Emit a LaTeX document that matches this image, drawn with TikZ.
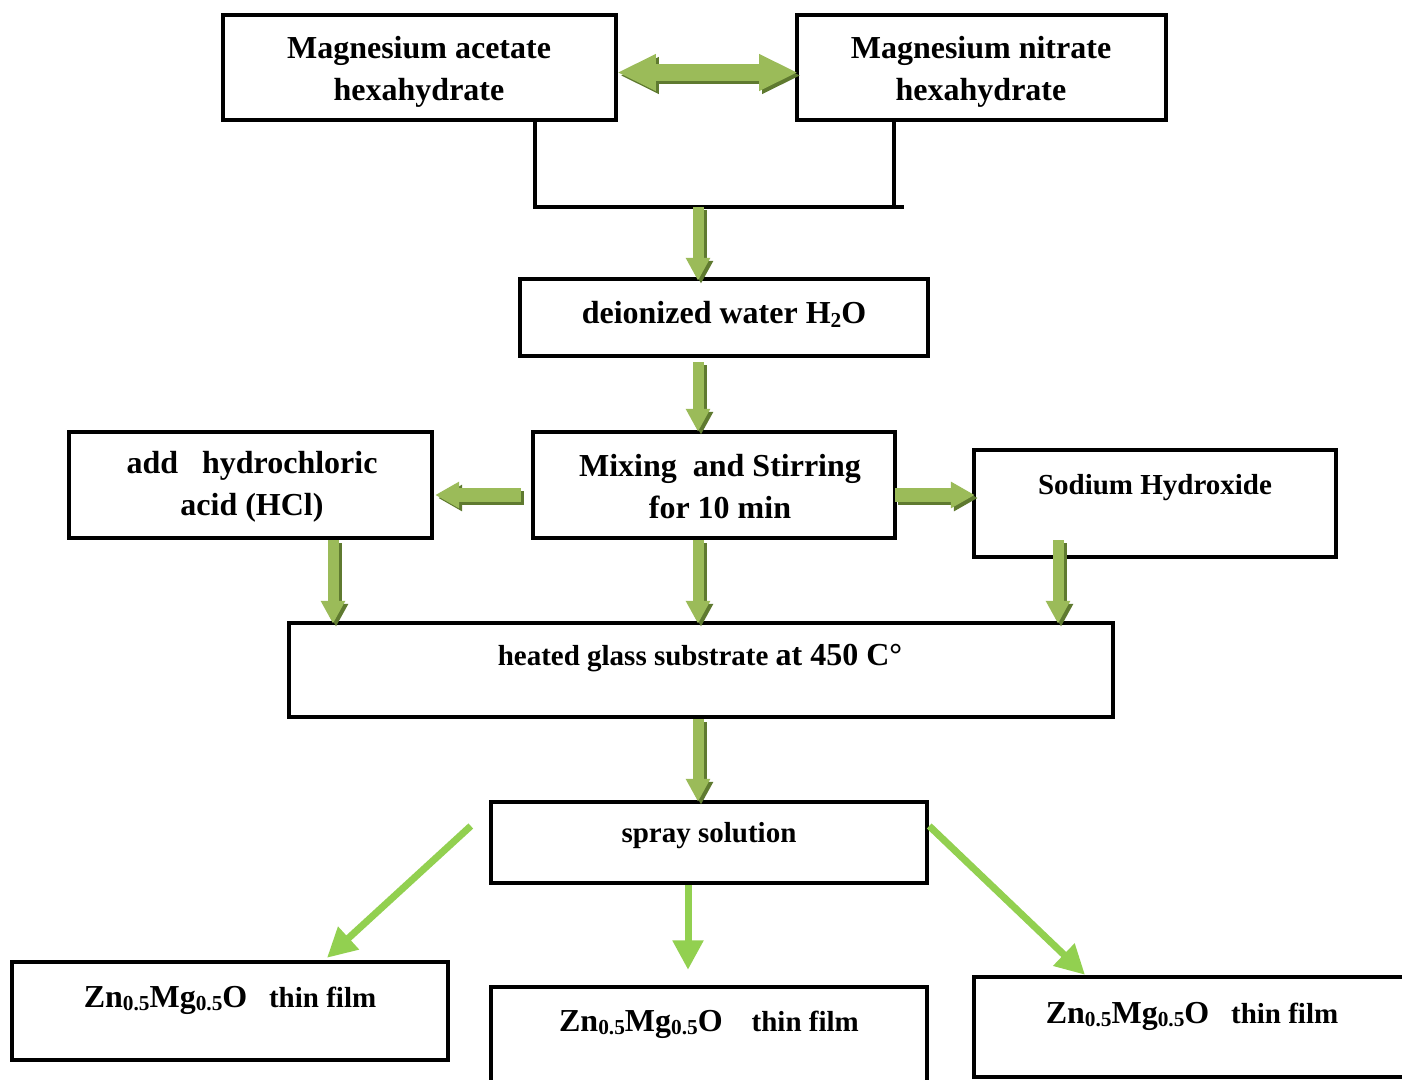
\documentclass[tikz,border=0pt]{standalone}
\usepackage{fontspec}
\setmainfont{Liberation Serif}
\usetikzlibrary{arrows.meta,fit,calc}
\definecolor{gmain}{HTML}{9BBB59}
\definecolor{gdark}{HTML}{5F7A30}
\definecolor{gline}{HTML}{92D050}
\newcommand\subsc[1]{\raisebox{-0.12em}{\fontsize{16}{16}\selectfont #1}}
\newcommand\znmg{{\fontsize{24}{29}\selectfont Zn\subsc{0.5}Mg\subsc{0.5}O}}

\begin{document}
\begin{tikzpicture}[x=0.75pt,y=-0.75pt,
  box/.style={draw=black, line width=3.3pt, inner sep=0pt},
  ln/.style={draw=black, line width=3.3pt},
  big/.style={font=\bfseries\fontsize{24}{31.5}\selectfont, align=center, inner sep=0pt},
  small/.style={font=\bfseries\fontsize{21.75}{28}\selectfont, align=center, inner sep=0pt},
  dblk/.style={line width=12.75pt, {Triangle[length=29pt,width=25.5pt]}-{Triangle[length=29pt,width=25.5pt]}},
  vblk/.style={line width=8.25pt, -{Triangle[length=17.25pt,width=17.25pt]}},
  hblk/.style={line width=10.5pt, -{Triangle[length=18pt,width=18.75pt]}},
  shadow/.style={draw=gdark, transform canvas={shift={(3,3)}}},
  face/.style={draw=gmain},
  thin/.style={draw=gline, line width=5.25pt, -{Triangle[length=22pt,width=22pt]}}]

\useasboundingbox (0,0) rectangle (1402,1080);
\fill[white] (0,0) rectangle (1402,1080);

% ---- boxes ----
\node[box, fit={(223,15) (616,120)}] (acetate) {};
\node[box, fit={(797,15) (1166,120)}] (nitrate) {};
\node[box, fit={(520,279) (928,356)}] (water) {};
\node[box, fit={(533,432) (895,538)}] (mixing) {};
\node[box, fit={(69,432) (432,538)}] (hcl) {};
\node[box, fit={(974,450) (1336,557)}] (naoh) {};
\node[box, fit={(289,623) (1113,717)}] (heated) {};
\node[box, fit={(491,802) (927,883)}] (spray) {};
\node[box, fit={(12,962) (448,1060)}] (zl) {};
\node[box, fit={(491,987) (927,1095)}] (zm) {};
\node[box, fit={(974,977) (1410,1077)}] (zr) {};

% ---- texts ----
\node[big] (tacetate) at (419,72) {Magnesium acetate\\hexahydrate};
\node[big] (tnitrate) at (981,72) {Magnesium nitrate\\hexahydrate};
\node[big] (twater) at (724,314) {deionized water H\subsc{2}O};
\node[big] (tmixing) at (720,487) {Mixing\ \ and Stirring\\for 10 min};
\node[big] (thcl) at (252,487) {add\ \ \ hydrochloric\\acid (HCl)};
\node[small] (tnaoh) at (1155,488) {Sodium Hydroxide};
\node[small] (theated) at (700,658) {heated glass substrate {\fontsize{24}{29}\selectfont at 450 C°}};
\node[small] (tspray) at (709,836) {spray solution};
\node[small] (tzl) at (230,1000) {\znmg\ \ \ thin film};
\node[small] (tzm) at (709,1024) {\znmg\ \ \ \ thin film};
\node[small] (tzr) at (1192,1016) {\znmg\ \ \ thin film};

% ---- bracket joining the two salts ----
\coordinate (bl) at (535,207);
\coordinate (bend) at (904,207);
\coordinate (nb) at (894,207);
\coordinate (br) at (698,207);
\coordinate (cx) at (698,0);
\coordinate (lx) at (333,0);
\coordinate (rx) at (1058,0);
\draw[ln] (acetate.south -| bl) -- (bl) -- (bend);
\draw[ln] (nitrate.south -| nb) -- (nb);

% ---- block arrows: shadow first, then face ----
\foreach \st in {shadow, face}{
  \draw[dblk, \st] ($(acetate.east)+(-1,5)$) -- ($(nitrate.west)+(3,5)$);
  \draw[vblk, \st] (br) -- ($(water.north -| cx)+(0,4)$);
  \draw[vblk, \st] ($(water.south -| cx)+(0,4)$) -- ($(mixing.north -| cx)+(0,2)$);
  \draw[vblk, \st] (mixing.south -| cx) -- ($(heated.north -| cx)+(0,3)$);
  \draw[vblk, \st] (hcl.south -| lx) -- ($(heated.north -| lx)+(0,3)$);
  \draw[vblk, \st] ($(naoh.south -| rx)+(0,-19)$) -- ($(heated.north -| rx)+(0,3)$);
  \draw[vblk, \st] (heated.south -| cx) -- ($(spray.north -| cx)+(0,2)$);
  \draw[hblk, \st] ($(mixing.west)+(-10,10)$) -- ($(hcl.east)+(1,10)$);
  \draw[hblk, \st] ($(mixing.east)+(-2,10)$) -- ($(naoh.west |- mixing.east)+(3,10)$);
}

% ---- thin arrows to the films ----
\draw[thin] ($(spray.west)+(-18,-16.5)$) -- ($(zl.north)+(97,-2)$);
\draw[thin] ($(spray.south)+(-21,0)$) -- ($(zm.north)+(-21,-15)$);
\draw[thin] ($(spray.east)+(0,-16.5)$) -- ($(zr.north)+(-107,0)$);
\end{tikzpicture}
\end{document}
